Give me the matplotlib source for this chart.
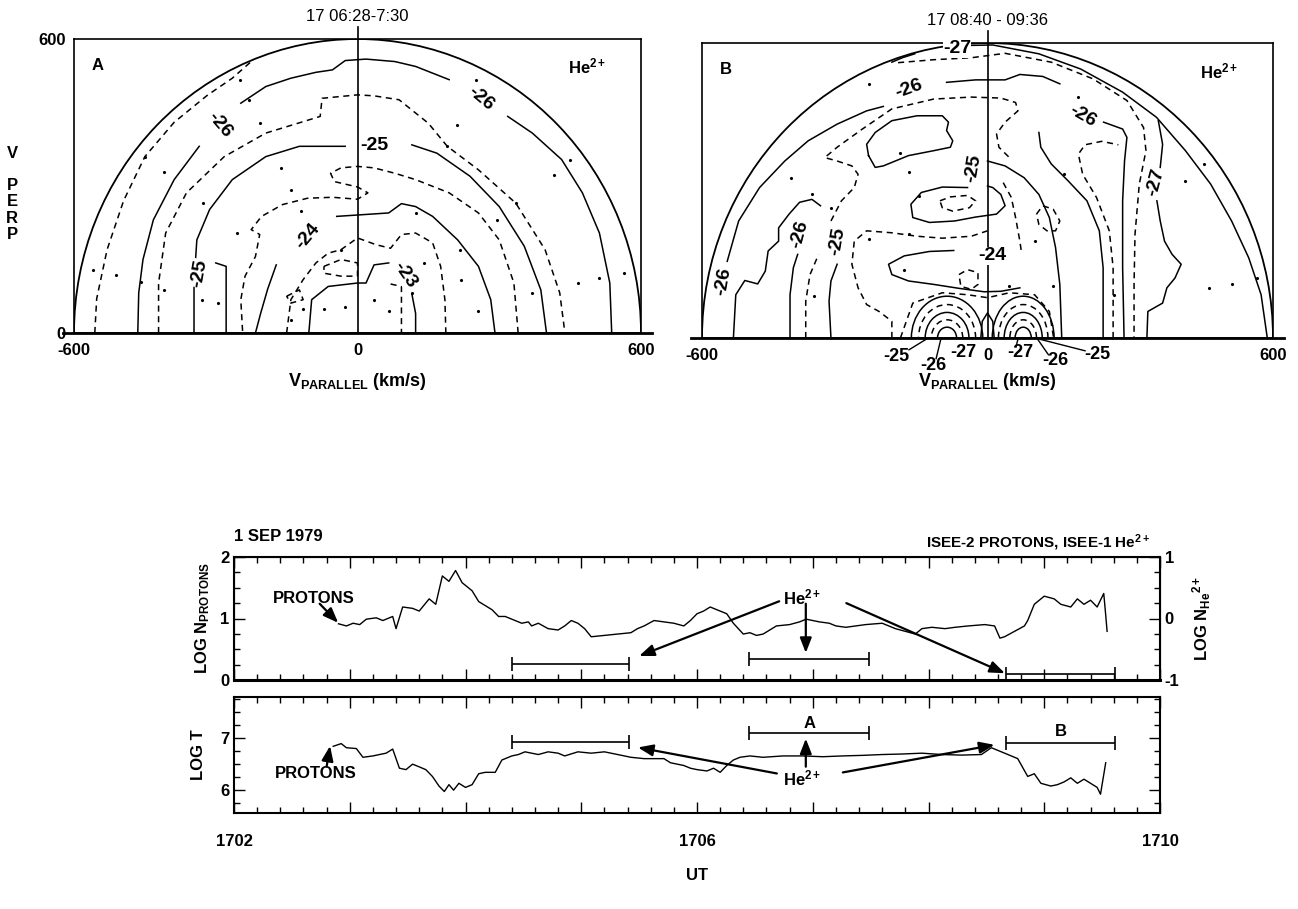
import numpy as np
import matplotlib.pyplot as plt
import matplotlib.transforms as mtransforms
from matplotlib.patches import Arc
from matplotlib.ticker import MultipleLocator, FixedLocator, FixedFormatter

plt.rcParams['font.family'] = ['Liberation Sans', 'DejaVu Sans']
plt.rcParams['font.weight'] = 'bold'
plt.rcParams['axes.labelweight'] = 'bold'
plt.rcParams['axes.unicode_minus'] = False
plt.rcParams['mathtext.fontset'] = 'custom'
plt.rcParams['mathtext.rm'] = 'Liberation Sans:bold'
plt.rcParams['mathtext.bf'] = 'Liberation Sans:bold'
plt.rcParams['mathtext.it'] = 'Liberation Sans:bold'

SOLID = '-'
DASH = (0, (4, 3))

# ---------------- panel A : 17 06:28-7:30 (v_par, v_perp in km/s)
a_m26p5 = [(-556, 0), (-552, 70), (-530, 170), (-495, 270), (-450, 360), (-388, 430),
           (-318, 485), (-265, 520), (-225, 554)]
a_m26_1 = [(538, 0), (534, 102), (512, 204), (476, 286), (432, 354), (370, 408), (318, 442)]
a_m26_2 = [(194, 517), (123, 544), (79, 554), (18, 559), (-26, 556), (-53, 537), (-88, 532),
           (-141, 520), (-194, 503), (-247, 469)]
a_m26_3 = [(-335, 381), (-388, 313), (-432, 231), (-454, 150), (-463, 82), (-465, 0)]
a_m25p5 = [(-421, 0), (-421, 102), (-406, 204), (-362, 286), (-282, 360), (-194, 408),
           (-79, 442), (-75, 479), (0, 486), (35, 484), (88, 476), (150, 428), (190, 381),
           (256, 333), (335, 265), (397, 170), (428, 82), (439, 0)]
a_m25_r = [(400, 0), (388, 88), (353, 177), (300, 258), (238, 320), (168, 367), (115, 384)]
a_m25_l = [(-26, 381), (-123, 381), (-194, 360), (-265, 313), (-313, 252), (-340, 190),
           (-346, 102), (-346, 0)]
a_m24p5 = [(340, 0), (331, 102), (300, 190), (256, 245), (194, 286), (123, 313), (79, 326),
           (35, 337), (0, 340), (-35, 337), (-57, 326), (-49, 309), (0, 298), (22, 286),
           (0, 273), (-53, 277), (-106, 275), (-159, 262), (-203, 238), (-225, 211),
           (-207, 201), (-216, 156), (-238, 116), (-247, 68), (-243, 0)]
a_m24_top = [(-44, 238), (66, 245), (93, 264), (123, 258), (159, 238), (212, 190),
             (256, 136), (282, 68), (291, 0)]
a_m24_l = [(-172, 139), (-190, 90), (-205, 40), (-216, 0)]
a_m23p5 = [(-150, 0), (-141, 68), (-115, 109), (-88, 143), (-62, 163), (-35, 170), (0, 194),
           (40, 180), (70, 173), (93, 201), (123, 204), (159, 184), (176, 136), (185, 68),
           (187, 0)]
a_m23_l = [(-103, 0), (-97, 68), (-62, 95), (0, 102), (18, 102), (35, 139), (66, 143)]
a_m23_r = [(115, 80), (123, 40), (123, 0)]
a_m25_small = [(-300, 143), (-278, 136), (-278, 0)]
a_in_1 = [(-71, 136), (-35, 150), (0, 143), (0, 116), (-35, 116), (-71, 122), (-71, 136)]
a_in_2 = [(-150, 75), (-123, 88), (-115, 68), (-141, 61), (-150, 75)]
a_in_3 = [(70, 100), (93, 95), (93, 0)]

a_lines = [(a_m26p5, DASH), (a_m26_1, SOLID), (a_m26_2, SOLID), (a_m26_3, SOLID),
           (a_m25p5, DASH), (a_m25_r, SOLID), (a_m25_l, SOLID), (a_m24p5, DASH),
           (a_m24_top, SOLID), (a_m24_l, SOLID), (a_m23p5, DASH), (a_m23_l, SOLID),
           (a_m23_r, SOLID), (a_m25_small, SOLID), (a_in_1, DASH), (a_in_2, DASH),
           (a_in_3, DASH)]
a_labels = [('-26', 262, 478, -40), ('-26', -292, 425, -50), ('-25', 35, 383, 0),
            ('-24', -106, 197, 50), ('-23', 100, 118, -55), ('-25', -335, 122, 80)]
a_dots = [(-249, 517), (-229, 476), (-207, 428), (-450, 360), (-410, 328), (251, 517),
          (210, 425), (190, 381), (450, 354), (415, 323), (335, 265), (123, 245),
          (295, 231), (216, 170), (370, 82), (467, 102), (512, 112), (564, 122),
          (-161, 337), (-141, 292), (-119, 248), (-256, 204), (-326, 265), (-560, 129),
          (-512, 119), (-459, 105), (-410, 88), (-329, 68), (-295, 61), (-115, 48),
          (-141, 27), (-71, 48), (-26, 54), (35, 68), (66, 44), (115, 82), (256, 44),
          (220, 109), (141, 143), (-35, 170)]

# ---------------- panel B : 17 08:40 - 09:36
b_m27_top = [(-42, 595), (11, 596), (108, 578), (196, 547), (284, 500), (355, 449),
             (416, 381), (469, 313), (513, 238), (549, 163), (575, 88), (588, 0)]
b_m26p5 = [(-188, 560), (-113, 566), (-34, 570), (37, 579), (134, 561), (222, 527),
           (293, 483), (328, 428), (333, 381), (319, 313), (310, 211), (308, 109), (308, 0)]
b_hook = [(-201, 561), (-179, 570), (-153, 578)]
b_m26_a = [(-86, 520), (-25, 525), (37, 525), (68, 536), (116, 532), (152, 517)]
b_m26_b = [(244, 439), (284, 425), (293, 408), (288, 360), (284, 279), (284, 143), (287, 0)]
b_m26_left = [(-547, 156), (-523, 238), (-479, 306), (-426, 360), (-377, 401), (-316, 435),
              (-254, 462), (-219, 471)]
b_m26_left2 = [(-534, 0), (-529, 88), (-510, 117), (-483, 110), (-467, 136), (-461, 177),
               (-439, 197), (-439, 224), (-417, 252), (-395, 276), (-369, 282), (-351, 269)]
b_m26_left3 = [(-415, 0), (-415, 88), (-408, 143), (-399, 170)]
b_m25p5_l1 = [(-382, 0), (-382, 75), (-373, 129), (-355, 170)]
b_m25p5_l2 = [(-329, 238), (-307, 279), (-280, 306), (-272, 333), (-285, 350), (-316, 360),
              (-342, 367), (-316, 388), (-263, 425), (-201, 466), (-113, 486), (-34, 490),
              (28, 488), (59, 479), (64, 462), (37, 439), (19, 415), (24, 388), (46, 367)]
b_m25_left = [(-329, 0), (-333, 75), (-329, 116), (-316, 150)]
b_m25_loop = [(-250, 371), (-254, 394), (-236, 418), (-201, 442), (-148, 452), (-95, 452),
              (-82, 439), (-86, 422), (-73, 401), (-78, 388), (-113, 381), (-166, 371),
              (-219, 350), (-236, 347), (-250, 371)]
b_m24p5 = [(-201, 0), (-201, 34), (-228, 54), (-254, 68), (-272, 102), (-285, 150),
           (-280, 197), (-254, 218), (-201, 214), (-148, 207), (-95, 203), (-34, 207), (0, 218)]
b_m25_mid = [(-42, 306), (-95, 307), (-139, 296), (-161, 272), (-157, 245), (-122, 235),
             (-69, 238), (-25, 246), (19, 252), (37, 269), (28, 292), (11, 306), (0, 309)]
b_ell1 = [(-100, 279), (-78, 287), (-42, 290), (-25, 279), (-38, 265), (-73, 258),
          (-95, 265), (-100, 279)]
b_ell2 = [(103, 252), (116, 269), (138, 262), (152, 238), (143, 218), (125, 218),
          (108, 231), (103, 252)]
b_loop3 = [(-60, 129), (-42, 139), (-20, 133), (-20, 109), (-34, 99), (-56, 105), (-60, 129)]
b_m24p5_r = [(33, 316), (50, 286), (59, 245), (68, 197), (72, 170)]
b_m24_low = [(-71, 178), (-122, 176), (-175, 167), (-208, 150), (-201, 129), (-166, 116),
             (-113, 109), (-60, 101), (-7, 94), (28, 95), (68, 102)]
b_env = [(-183, 0), (-157, 71), (-95, 92), (-42, 88), (0, 82), (46, 92), (99, 88),
         (130, 54), (139, 0)]
b_c25 = [(0, 360), (37, 350), (77, 326), (108, 292), (130, 245), (143, 184), (152, 109),
         (156, 0)]
b_r1 = [(243, 0), (243, 143), (235, 218), (209, 279), (169, 320), (134, 354), (112, 388),
        (108, 418)]
b_r2 = [(264, 0), (264, 143), (256, 218), (229, 286), (200, 333), (191, 374), (205, 393),
        (240, 400), (275, 393)]
b_m27_w1 = [(335, 0), (337, 54), (368, 71), (377, 102), (394, 122), (407, 150), (388, 170),
            (372, 197), (363, 238), (356, 279)]
b_m27_w2 = [(363, 347), (368, 394), (359, 442)]
b_spike = [(-14, 0), (-11, 34), (0, 51), (11, 34), (14, 0)]

b_lines = [(b_m27_top, SOLID), (b_m26p5, DASH), (b_hook, SOLID), (b_m26_a, SOLID),
           (b_m26_b, SOLID), (b_m26_left, SOLID), (b_m26_left2, SOLID), (b_m26_left3, SOLID),
           (b_m25p5_l1, DASH), (b_m25p5_l2, DASH), (b_m25_left, SOLID), (b_m25_loop, SOLID),
           (b_m24p5, DASH), (b_m25_mid, SOLID), (b_ell1, DASH), (b_ell2, DASH),
           (b_loop3, DASH), (b_m24p5_r, DASH), (b_m24_low, SOLID), (b_env, DASH),
           (b_c25, SOLID), (b_r1, SOLID), (b_r2, DASH), (b_m27_w1, SOLID), (b_m27_w2, SOLID),
           (b_spike, SOLID)]
b_labels = [('-27', -64, 588, 0), ('-26', -166, 507, 20), ('-26', 200, 452, -30),
            ('-25', -29, 345, 80), ('-26', -555, 115, 80), ('-26', -395, 211, 75),
            ('-25', -316, 197, 80), ('-24', 11, 167, 0), ('-27', 353, 316, 75)]
b_bottom_labels = [('-25', -192, -37), ('-26', -113, -56), ('-27', -51, -29),
                   ('-27', 68, -29), ('-26', 143, -46), ('-25', 231, -34)]
b_leaders = [[(-165, -24), (-128, -2)], [(-108, -42), (-98, -2)], [(60, -18), (64, -2)],
             [(128, -34), (105, -2)], [(205, -26), (112, -3)]]
b_dots = [(-250, 517), (-183, 377), (-166, 337), (-413, 326), (-369, 292), (-329, 265),
          (-250, 201), (-144, 289), (-175, 139), (-364, 85), (99, 197), (138, 105),
          (191, 490), (161, 333), (416, 320), (456, 354), (566, 122), (513, 109),
          (465, 102), (-166, 211), (46, 105), (266, 88)]

# humps at the bottom centre of panel B (nested contours)
hump_centres = [-85, 75]
hump_widths_l = [150, 120, 92, 66, 40]
hump_widths_r = [130, 104, 80, 56, 34]
hump_heights = [170, 136, 104, 74, 44]
hump_styles = [SOLID, DASH, SOLID, DASH, SOLID]

# ---------------- time series, 1 SEP 1979 (hours UT)
n_hours = [2.903, 2.971, 3.029, 3.086, 3.143, 3.229, 3.286, 3.371, 3.400, 3.457, 3.543,
           3.600, 3.686, 3.743, 3.800, 3.857, 3.914, 3.971, 4.057, 4.114, 4.229, 4.286,
           4.343, 4.400, 4.486, 4.543, 4.571, 4.629, 4.714, 4.800, 4.857, 4.914, 4.971,
           5.029, 5.086, 5.200, 5.314, 5.429, 5.486, 5.543, 5.629, 5.714, 5.800, 5.886,
           5.943, 6.000, 6.057, 6.114, 6.200, 6.257, 6.314, 6.400, 6.457, 6.514, 6.571,
           6.686, 6.800, 6.886, 6.943, 7.000, 7.057, 7.143, 7.200, 7.286, 7.371, 7.457,
           7.600, 7.714, 7.800, 7.886, 7.943, 8.029, 8.143, 8.229, 8.343, 8.486, 8.571,
           8.617, 8.657, 8.743, 8.829, 8.857, 8.914, 9.000, 9.086, 9.143, 9.229, 9.286,
           9.343, 9.400, 9.457, 9.514, 9.531, 9.543]
log_n_protons = [0.914, 0.879, 0.923, 0.901, 0.989, 1.011, 0.967, 1.033, 0.835, 1.187, 1.165,
                 1.121, 1.319, 1.231, 1.692, 1.604, 1.780, 1.582, 1.451, 1.275, 1.143, 1.033,
                 1.033, 0.989, 0.923, 0.945, 0.879, 0.923, 0.835, 0.813, 0.879, 0.967, 0.923,
                 0.835, 0.703, 0.725, 0.747, 0.769, 0.835, 0.879, 0.967, 0.945, 0.923, 0.879,
                 0.967, 1.077, 1.121, 1.187, 1.121, 1.077, 0.923, 0.747, 0.769, 0.725, 0.747,
                 0.879, 0.901, 0.945, 0.989, 0.967, 0.945, 0.923, 0.879, 0.857, 0.879, 0.901,
                 0.923, 0.835, 0.791, 0.747, 0.835, 0.857, 0.835, 0.857, 0.879, 0.901, 0.879,
                 0.681, 0.703, 0.791, 0.879, 0.967, 1.231, 1.363, 1.319, 1.231, 1.187, 1.319,
                 1.231, 1.297, 1.187, 1.407, 1.055, 0.791]

t_hours = [2.857, 2.926, 2.971, 3.057, 3.114, 3.200, 3.257, 3.314, 3.371, 3.429, 3.486,
           3.543, 3.600, 3.657, 3.714, 3.771, 3.817, 3.857, 3.897, 3.943, 4.000, 4.057,
           4.114, 4.171, 4.257, 4.314, 4.400, 4.457, 4.514, 4.571, 4.629, 4.714, 4.800,
           4.857, 4.971, 5.086, 5.200, 5.314, 5.429, 5.543, 5.714, 5.771, 5.886, 5.943,
           6.000, 6.086, 6.143, 6.200, 6.257, 6.314, 6.371, 6.457, 6.571, 6.743, 6.914,
           7.086, 7.257, 7.429, 7.600, 7.771, 7.943, 8.114, 8.286, 8.457, 8.543, 8.600,
           8.686, 8.771, 8.857, 8.914, 8.971, 9.057, 9.114, 9.171, 9.229, 9.286, 9.343,
           9.400, 9.457, 9.486, 9.531]
log_t_protons = [6.832, 6.884, 6.805, 6.789, 6.621, 6.647, 6.674, 6.700, 6.779, 6.411, 6.384,
                 6.489, 6.437, 6.384, 6.253, 6.068, 5.963, 6.095, 5.989, 6.121, 6.042, 6.095,
                 6.305, 6.332, 6.332, 6.568, 6.647, 6.674, 6.726, 6.700, 6.674, 6.726, 6.700,
                 6.647, 6.726, 6.700, 6.726, 6.674, 6.621, 6.595, 6.595, 6.516, 6.463, 6.411,
                 6.384, 6.358, 6.411, 6.332, 6.463, 6.568, 6.621, 6.647, 6.621, 6.647, 6.647,
                 6.632, 6.647, 6.658, 6.674, 6.684, 6.700, 6.674, 6.663, 6.674, 6.805, 6.753,
                 6.674, 6.595, 6.253, 6.305, 6.121, 6.068, 6.095, 6.147, 6.226, 6.121, 6.200,
                 6.121, 6.042, 5.911, 6.516]

he_start = [4.40, 6.45, 8.67]
he_end = [5.41, 7.49, 9.61]
he_log_n = [-0.74, -0.66, -0.90]
he_log_t = [6.91, 7.08, 6.90]

time_ticks = [2, 3, 4, 5, 6, 7, 8, 9, 10]
time_labels = ['1702', '', '', '', '1706', '', '', '', '1710']

W, H = 1298, 909
fig = plt.figure(figsize=(W / 100, H / 100), dpi=100)


def box(l, t, r, b):
    return [l / W, 1 - b / H, (r - l) / W, (b - t) / H]


axA = fig.add_axes(box(74, 39, 641, 333))
axB = fig.add_axes(box(702, 43, 1273, 338))
axN = fig.add_axes(box(234, 557, 1160, 680))
axT = fig.add_axes(box(234, 697, 1160, 813))


def vel_panel(ax, lines, labels, dots, title, letter):
    ax.set_xlim(-600, 600)
    ax.set_ylim(0, 600)
    ax.add_patch(Arc((0, 0), 1200, 1200, theta1=0, theta2=180, color='k', lw=1.3))
    for pts, ls in lines:
        xy = np.array(pts, dtype=float)
        ax.plot(xy[:, 0], xy[:, 1], color='k', lw=1.1, linestyle=ls)
    for txt, x, y, rot in labels:
        ax.text(x, y, txt, rotation=rot, ha='center', va='center', fontsize=14,
                bbox=dict(fc='white', ec='none', pad=0.2))
    d = np.array(dots, dtype=float)
    ax.plot(d[:, 0], d[:, 1], 'k.', ms=2.5)
    trans = mtransforms.blended_transform_factory(ax.transData, ax.transAxes)
    ax.plot([0, 0], [0, 1.04], color='k', lw=1.2, transform=trans, clip_on=False)
    ax.text(0, 1.075, title, transform=trans, ha='center', va='center', fontsize=12,
            fontweight='normal')
    ax.plot([-0.02, 1.02], [0, 0], color='k', lw=2, transform=ax.transAxes, clip_on=False)
    ax.text(0.042, 0.91, letter, transform=ax.transAxes, ha='center', va='center', fontsize=12)
    ax.text(0.905, 0.905, r'He$^{2+}$', transform=ax.transAxes, ha='center', va='center',
            fontsize=12)
    ax.set_xticks([-600, 0, 600])
    ax.set_xticklabels(['-600', '0', '600'])
    ax.set_yticks([0, 600])
    ax.set_yticklabels(['0', '600'])
    ax.tick_params(length=0, labelsize=12, pad=7)
    for s in ax.spines.values():
        s.set_linewidth(1.2)
    fig.text((ax.get_position().x0 + ax.get_position().x1) / 2, 1 - 382 / H,
             r'V$_{\mathbf{PARALLEL}}$ (km/s)', ha='center', va='center', fontsize=13)


vel_panel(axA, a_lines, a_labels, a_dots, '17 06:28-7:30', 'A')
vel_panel(axB, b_lines, b_labels, b_dots, '17 08:40 - 09:36', 'B')

for c, widths in zip(hump_centres, [hump_widths_l, hump_widths_r]):
    for w, h, ls in zip(widths, hump_heights, hump_styles):
        axB.add_patch(Arc((c, 0), w, h, theta1=0, theta2=180, color='k', lw=1.1,
                          linestyle=ls))
for txt, x, y in b_bottom_labels:
    axB.text(x, y, txt, ha='center', va='center', fontsize=13, clip_on=False)
for seg in b_leaders:
    xy = np.array(seg, dtype=float)
    axB.plot(xy[:, 0], xy[:, 1], color='k', lw=1, clip_on=False)

axA.tick_params(axis='y', pad=6)
axB.tick_params(axis='y', labelleft=False)

fig.text(12 / W, 1 - 154 / H, 'V', ha='center', va='center', fontsize=12)
fig.text(12 / W, 1 - 210 / H, 'P\nE\nR\nP', ha='center', va='center', fontsize=12,
         linespacing=1.1)

# ---------------- time series panels
for ax in (axN, axT):
    ax.set_xlim(2, 10)
    ax.xaxis.set_major_locator(FixedLocator(time_ticks))
    ax.xaxis.set_minor_locator(MultipleLocator(0.2))
    ax.tick_params(which='both', direction='in', top=True, width=1)
    ax.tick_params(which='major', length=8)
    ax.tick_params(which='minor', length=4)
    ax.tick_params(labelsize=12)
    for s in ax.spines.values():
        s.set_linewidth(1.5)

axN.set_ylim(0, 2)
axN.set_yticks([0, 1, 2])
axN.yaxis.set_minor_locator(MultipleLocator(0.25))
axN.tick_params(labelbottom=False)
axN.spines['bottom'].set_linewidth(2.2)
axN.plot(n_hours, log_n_protons, color='k', lw=1)
axN.set_ylabel(r'LOG N$_{\mathbf{PROTONS}}$', fontsize=12, labelpad=6)

axN2 = axN.twinx()
axN2.set_ylim(-1, 1)
axN2.set_yticks([-1, 0, 1])
axN2.yaxis.set_minor_locator(MultipleLocator(0.25))
axN2.tick_params(which='both', direction='in', width=1, labelsize=12)
axN2.tick_params(which='major', length=8)
axN2.tick_params(which='minor', length=4)
axN2.set_ylabel(r'LOG N$_{\mathbf{He}}$$^{\mathbf{2+}}$', fontsize=12, labelpad=8)

he_mid = (np.array(he_start) + np.array(he_end)) / 2
he_half = (np.array(he_end) - np.array(he_start)) / 2
axN2.errorbar(he_mid, he_log_n, xerr=he_half, fmt='none', ecolor='k', elinewidth=1.2,
              capsize=5, capthick=1.2)

axT.set_ylim(5.55, 7.78)
axT.set_yticks([6, 7])
axT.yaxis.set_minor_locator(MultipleLocator(0.25))
axT.tick_params(which='both', right=True)
axT.xaxis.set_major_formatter(FixedFormatter(time_labels))
axT.tick_params(axis='x', pad=15)
axT.plot(t_hours, log_t_protons, color='k', lw=1)
axT.errorbar(he_mid, he_log_t, xerr=he_half, fmt='none', ecolor='k', elinewidth=1.2,
             capsize=5, capthick=1.2)
axT.set_ylabel('LOG T', fontsize=12, labelpad=10)
axT.set_xlabel('UT', fontsize=12, labelpad=14)

arrow_props = dict(arrowstyle='-|>,head_length=0.9,head_width=0.35', color='k', lw=1.6,
                   shrinkA=0, shrinkB=0)


def arrow(ax, start, end):
    ax.annotate('', xy=end, xytext=start, arrowprops=arrow_props)


axN.text(6.91, 1.34, r'He$^{2+}$', ha='center', va='center', fontsize=12)
arrow(axN, (6.71, 1.28), (5.50, 0.39))
arrow(axN, (6.94, 1.24), (6.94, 0.44))
arrow(axN, (7.29, 1.25), (8.66, 0.11))
axN.text(2.69, 1.32, 'PROTONS', ha='center', va='center', fontsize=12)
arrow(axN, (2.74, 1.24), (2.90, 0.93))

axT.text(6.91, 6.21, r'He$^{2+}$', ha='center', va='center', fontsize=12)
arrow(axT, (6.69, 6.31), (5.49, 6.81))
arrow(axT, (6.94, 6.44), (6.94, 6.98))
arrow(axT, (7.26, 6.33), (8.57, 6.86))
axT.text(2.71, 6.31, 'PROTONS', ha='center', va='center', fontsize=12)
arrow(axT, (2.80, 6.44), (2.83, 6.84))
axT.text(6.97, 7.28, 'A', ha='center', va='center', fontsize=12)
axT.text(9.14, 7.12, 'B', ha='center', va='center', fontsize=12)

axN.text(0.0, 1.17, '1 SEP 1979', transform=axN.transAxes, ha='left', va='center',
         fontsize=12)
axN.text(0.99, 1.12, r'ISEE-2 PROTONS, ISEE-1 He$^{2+}$', transform=axN.transAxes,
         ha='right', va='center', fontsize=11)

fig.savefig('out.png', dpi=100)
